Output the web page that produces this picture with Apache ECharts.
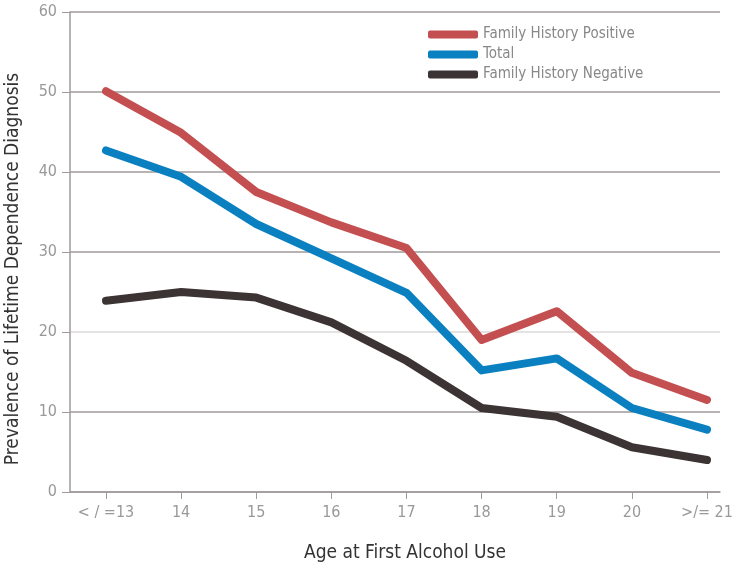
<!DOCTYPE html>
<html>
<head>
<meta charset="utf-8">
<title>Prevalence of Lifetime Dependence Diagnosis</title>
<script src="https://cdn.jsdelivr.net/npm/echarts@6/dist/echarts.min.js"></script>
<style>
    html, body { margin: 0; padding: 0; background: #fff; }
    #chart { width: 732px; height: 568px; }
</style>
</head>
<body>
<div id="chart"></div>
<script>
// Age at first alcohol use vs. lifetime dependence diagnosis (%)
const categories = ['< / =13', '14', '15', '16', '17', '18', '19', '20', '>/= 21'];
const familyPositive = [50.1, 44.9, 37.5, 33.7, 30.5, 19.0, 22.6, 14.9, 11.5];
const total = [42.7, 39.4, 33.5, 29.2, 24.9, 15.2, 16.7, 10.5, 7.8];
const familyNegative = [23.9, 25.0, 24.3, 21.2, 16.4, 10.5, 9.4, 5.6, 4.0];
const yTicks = [0, 10, 20, 30, 40, 50, 60];

const FONT = '"DejaVu Sans Condensed", "Liberation Sans Narrow", "Liberation Sans", sans-serif';

function toPoints(values) {
    return values.map((v, i) => [i, v]);
}

document.addEventListener('DOMContentLoaded', function() {
    const chart = echarts.init(document.getElementById('chart'));
    const idx = categories.map((c, i) => i);

    const option = {
        animation: false,
        grid: { left: 70, right: 12, top: 12, bottom: 76, outerBoundsMode: 'none', containLabel: false },
        legend: {
            orient: 'vertical',
            left: 423,
            top: 22,
            itemWidth: 50,
            itemHeight: 8,
            itemGap: 5,
            icon: 'roundRect',
            textStyle: { color: '#888', fontSize: 15, fontFamily: FONT },
            data: ['Family History Positive', 'Total', 'Family History Negative']
        },
        xAxis: {
            type: 'value',
            min: -0.479,
            max: 8.173,
            name: 'Age at First Alcohol Use',
            nameLocation: 'middle',
            nameGap: 52,
            nameTextStyle: { color: '#333', fontSize: 19, fontFamily: FONT, padding: [0, 0, 0, 20] },
            axisLine: { show: true, onZero: false, lineStyle: { color: '#a09a9a', width: 1.5 } },
            axisTick: { show: true, length: 7, customValues: idx, lineStyle: { color: '#a09a9a' } },
            axisLabel: {
                customValues: idx,
                margin: 13,
                color: '#999',
                fontSize: 16,
                fontFamily: FONT,
                formatter: function(v) { return categories[Math.round(v)]; }
            },
            splitLine: { show: false }
        },
        yAxis: {
            type: 'value',
            min: yTicks[0],
            max: yTicks[yTicks.length - 1],
            interval: 10,
            name: 'Prevalence of Lifetime Dependence Diagnosis',
            nameLocation: 'middle',
            nameGap: 47,
            nameTextStyle: { color: '#333', fontSize: 19, fontFamily: FONT, padding: [0, 34, 0, 0] },
            axisLine: { show: true, onZero: false, lineStyle: { color: '#a09a9a', width: 1.5 } },
            axisTick: { show: true, length: 8, lineStyle: { color: '#a09a9a' } },
            axisLabel: { color: '#999', fontSize: 16, margin: 13, fontFamily: FONT },
            splitLine: {
                show: true,
                lineStyle: {
                    color: ['#a09a9a', '#a09a9a', '#ddd8d8', '#a09a9a', '#a09a9a', '#a09a9a', '#a09a9a'],
                    width: 1.5
                }
            }
        },
        series: [
            {
                name: 'Family History Positive',
                type: 'line',
                data: toPoints(familyPositive),
                symbol: 'none',
                lineStyle: { width: 8, color: '#c44f50', cap: 'round', join: 'round' },
                itemStyle: { color: '#c44f50' }
            },
            {
                name: 'Total',
                type: 'line',
                data: toPoints(total),
                symbol: 'none',
                lineStyle: { width: 8, color: '#0a80c0', cap: 'round', join: 'round' },
                itemStyle: { color: '#0a80c0' }
            },
            {
                name: 'Family History Negative',
                type: 'line',
                data: toPoints(familyNegative),
                symbol: 'none',
                lineStyle: { width: 8, color: '#3b3334', cap: 'round', join: 'round' },
                itemStyle: { color: '#3b3334' }
            }
        ]
    };

    chart.setOption(option);
});
</script>
</body>
</html>
